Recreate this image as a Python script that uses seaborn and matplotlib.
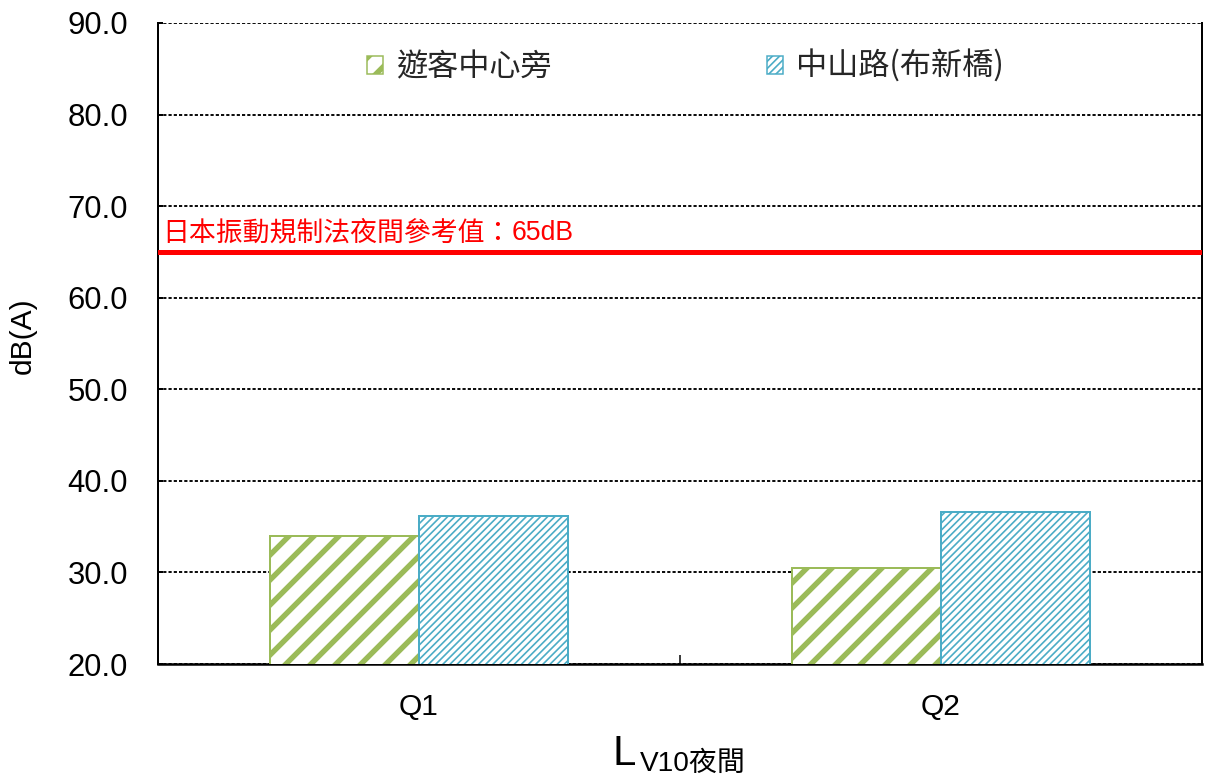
import matplotlib
matplotlib.use("Agg")
import matplotlib.pyplot as plt
import matplotlib.colors as mcolors
import seaborn as sns
import pandas as pd
from matplotlib.patches import Patch
from matplotlib.ticker import FixedLocator, FormatStrFormatter

# ---------------- data ----------------
categories = ["Q1", "Q2"]
series_names = ["遊客中心旁", "中山路(布新橋)"]
values_visitor_center = [34.0, 30.5]
values_zhongshan_road = [36.2, 36.6]
limit_value = 65
limit_label_cjk = "日本振動規制法夜間參考值："
limit_label_num = "65dB"
y_ticks = [20, 30, 40, 50, 60, 70, 80, 90]
y_label = "dB(A)"
x_label_main = "L"
x_label_sub = "V10夜間"

# ---------------- styles ----------------
series_colors = ["#9BBB59", "#4BACC6"]
series_hatches = ["//", "///////"]
hatch_widths = [2.6, 0.8]

DPI = 150
PX = 72.0 / DPI  # points per pixel

df = pd.DataFrame({
    "quarter": categories * 2,
    "site": [series_names[0]] * len(categories) + [series_names[1]] * len(categories),
    "value": values_visitor_center + values_zhongshan_road,
})

sns.set_theme(style="white")
plt.rcParams["font.family"] = ["Liberation Sans", "Noto Sans CJK TC", "DejaVu Sans"]
plt.rcParams["axes.unicode_minus"] = False

fig = plt.figure(figsize=(1208 / DPI, 780 / DPI), dpi=DPI)
ax = fig.add_axes([158 / 1208, 116 / 780, 1044 / 1208, 641 / 780])

sns.barplot(data=df, x="quarter", y="value", hue="site", order=categories,
            hue_order=series_names, palette=series_colors, saturation=1,
            width=0.571, ax=ax, legend=False, zorder=3)

# style bars: white face, coloured edge + hatch
pal_rgb = [mcolors.to_rgb(c) for c in series_colors]
for patch in ax.patches:
    fc = mcolors.to_rgb(patch.get_facecolor())
    idx = min(range(len(pal_rgb)),
              key=lambda i: sum((a - b) ** 2 for a, b in zip(fc, pal_rgb[i])))
    patch.set_facecolor("white")
    patch.set_edgecolor(series_colors[idx])
    patch.set_hatch(series_hatches[idx])
    patch.set_linewidth(2.0 * PX)
    if hasattr(patch, "set_hatch_linewidth"):
        patch.set_hatch_linewidth(hatch_widths[idx])

ax.set_xlim(-0.5, len(categories) - 0.5)
ax.set_ylim(y_ticks[0], y_ticks[-1])
ax.yaxis.set_major_locator(FixedLocator(y_ticks))
ax.yaxis.set_major_formatter(FormatStrFormatter("%.1f"))
ax.set_axisbelow(True)
ax.grid(axis="y", color="black", linestyle=(0, (1.7, 1.1)), linewidth=0.9)
ax.grid(axis="x", visible=False)

for side in ["left", "bottom", "right"]:
    ax.spines[side].set_visible(True)
    ax.spines[side].set_color("black")
ax.spines["left"].set_linewidth(2.0 * PX)
ax.spines["bottom"].set_linewidth(2.5 * PX)
ax.spines["right"].set_linewidth(2.0 * PX)
ax.spines["top"].set_visible(False)

ax.tick_params(axis="y", which="major", direction="in", length=5 * PX, width=2 * PX,
               pad=30 * PX, labelsize=31 * PX, colors="black", left=True)
ax.set_xticks(range(len(categories)))
ax.set_xticklabels(categories)
ax.tick_params(axis="x", which="major", length=0, pad=29 * PX, labelsize=30 * PX, colors="black")
ax.set_xticks([0.5], minor=True)
ax.tick_params(axis="x", which="minor", direction="in", length=9 * PX, width=1.5 * PX,
               bottom=True, colors="black")

ax.set_xlabel("")
ax.set_ylabel(y_label, fontsize=30 * PX, color="black")
ax.yaxis.set_label_coords((37 - 158) / 1044, (664 - 336) / 641)

# reference limit line and label
ax.axhline(limit_value, color="#FF0000", linewidth=5 * PX, zorder=4)
t1 = ax.text(4 / 1044, limit_value + 1.25, limit_label_cjk, transform=ax.get_yaxis_transform(),
             color="#FF0000", fontsize=26.9 * PX, va="baseline", ha="left",
             family=["Noto Sans CJK TC", "DejaVu Sans"], zorder=5)
ax.annotate(limit_label_num, xy=(1, limit_value + 1.25), xycoords=(t1, ax.transData),
            color="#FF0000", fontsize=26.6 * PX, va="baseline", ha="left",
            family=["Liberation Sans", "DejaVu Sans"], zorder=5)

# x label with subscript
fig.text(612 / 1208, (780 - 765) / 780, x_label_main, fontsize=42 * PX,
         va="baseline", ha="left", color="black")
fig.text(640 / 1208, (780 - 771) / 780, x_label_sub, fontsize=28 * PX,
         va="baseline", ha="left", color="black",
         family=["Liberation Sans", "Noto Sans CJK TC"])

# legend
handles = [Patch(facecolor="white", edgecolor=c, hatch=h, linewidth=1.5 * PX)
           for c, h in zip(series_colors, series_hatches)]
leg = ax.legend(handles, series_names, loc="center", bbox_to_anchor=(0.505, 0.932),
                ncol=2, frameon=False, handlelength=0.52, handleheight=0.52,
                handletextpad=0.42, columnspacing=6.9,
                prop={"family": ["Noto Sans CJK TC", "DejaVu Sans"], "size": 31.2 * PX})
for p, w in zip(leg.get_patches(), hatch_widths):
    if hasattr(p, "set_hatch_linewidth"):
        p.set_hatch_linewidth(w)

fig.savefig("out.png", dpi=DPI, facecolor="white")
